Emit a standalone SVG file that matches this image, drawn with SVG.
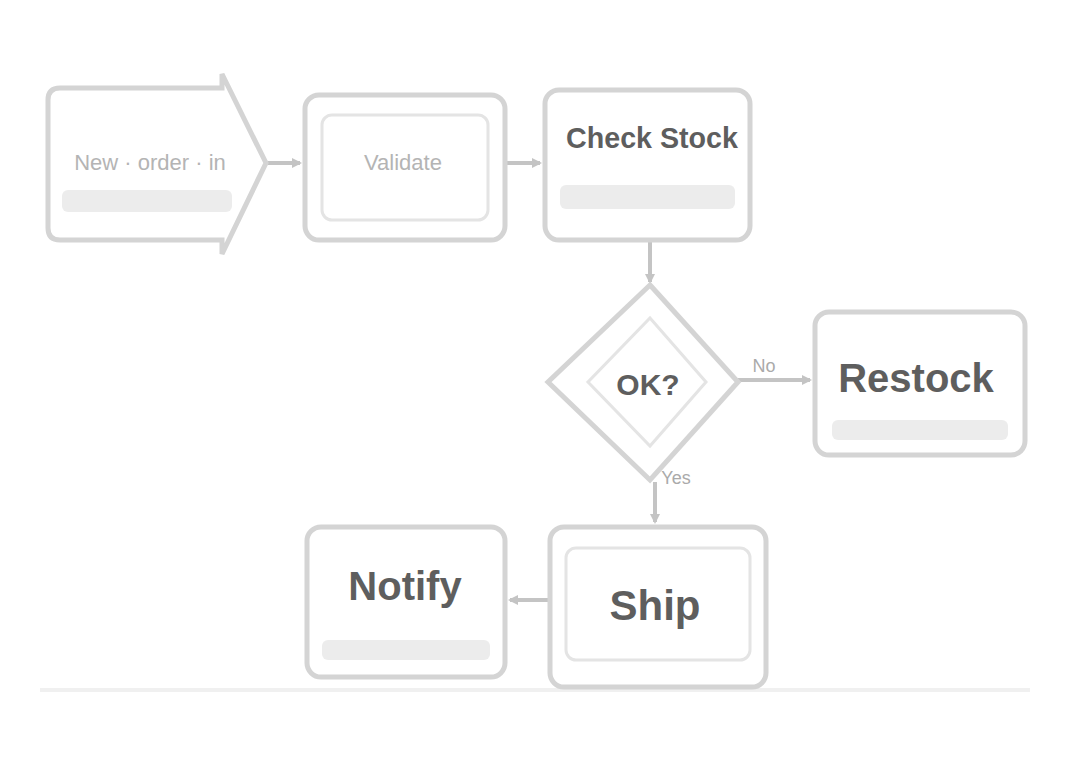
<svg xmlns="http://www.w3.org/2000/svg" width="1071" height="769" viewBox="0 0 1071 769">
<style>
.card{fill:#ffffff;stroke:#d4d4d4;stroke-width:5}
.strip{fill:#ececec}
.inner{fill:none;stroke:#e4e4e4;stroke-width:3}
.light{font-family:"Liberation Sans",Arial,sans-serif;font-size:22px;fill:#b4b4b4;text-anchor:middle}
.dark{font-family:"Liberation Sans",Arial,sans-serif;font-size:34px;font-weight:bold;fill:#5e5e5e;text-anchor:middle}
.lbl{font-family:"Liberation Sans",Arial,sans-serif;font-size:18px;fill:#aaaaaa;text-anchor:middle}
.edge{stroke:#c4c4c4;stroke-width:4;fill:none}
</style>
<defs>
<marker id="arr" markerWidth="10" markerHeight="10" refX="8" refY="5" orient="auto" markerUnits="userSpaceOnUse">
<path d="M0,0 L10,5 L0,10 z" fill="#c4c4c4"/>
</marker>
</defs>
<rect width="1071" height="769" fill="#ffffff"/>
<line x1="40" y1="690" x2="1030" y2="690" stroke="#f0f0f0" stroke-width="4"/>

<g id="connectors">
<line class="edge" x1="268" y1="163" x2="300" y2="163" marker-end="url(#arr)"/>
<line class="edge" x1="505" y1="163" x2="540" y2="163" marker-end="url(#arr)"/>
<line class="edge" x1="650" y1="240" x2="650" y2="282" marker-end="url(#arr)"/>
<line class="edge" x1="738" y1="380" x2="810" y2="380" marker-end="url(#arr)"/>
<line class="edge" x1="655" y1="482" x2="655" y2="522" marker-end="url(#arr)"/>
<line class="edge" x1="548" y1="600" x2="510" y2="600" marker-end="url(#arr)"/>
<text class="lbl" x="764" y="372">No</text>
<text class="lbl" x="676" y="484">Yes</text>
</g>

<g id="n1">
<path class="card" d="M60,88 L222,88 L222,74 L266,163 L222,254 L222,240 L60,240 Q48,240 48,228 L48,100 Q48,88 60,88 z"/>
<rect class="strip" x="62" y="190" width="170" height="22" rx="6"/>
<text class="light" x="150" y="170">New · order · in</text>
</g>

<g id="n2">
<rect class="card" x="305" y="95" width="200" height="145" rx="14"/>
<rect class="inner" x="322" y="115" width="166" height="105" rx="10"/>
<text class="light" x="403" y="170">Validate</text>
</g>

<g id="n3">
<rect class="card" x="545" y="90" width="205" height="150" rx="14"/>
<rect class="strip" x="560" y="185" width="175" height="24" rx="6"/>
<text class="dark" x="652" y="148" style="font-size:30px" textLength="172" lengthAdjust="spacingAndGlyphs">Check Stock</text>
</g>

<g id="n4">
<path class="card" d="M650,285 L738,382 L650,480 L548,382 z"/>
<path class="inner" d="M650,318 L706,382 L650,446 L588,382 z"/>
<text class="dark" x="648" y="395" style="font-size:30px">OK?</text>
</g>

<g id="n5">
<rect class="card" x="815" y="312" width="210" height="143" rx="14"/>
<rect class="strip" x="832" y="420" width="176" height="20" rx="6"/>
<text class="dark" x="916" y="392" style="font-size:40px">Restock</text>
</g>

<g id="n6">
<rect class="card" x="307" y="527" width="198" height="150" rx="14"/>
<rect class="strip" x="322" y="640" width="168" height="20" rx="6"/>
<text class="dark" x="405" y="600" style="font-size:40px">Notify</text>
</g>

<g id="n7">
<rect class="card" x="550" y="527" width="216" height="160" rx="14"/>
<rect class="inner" x="566" y="548" width="184" height="112" rx="10"/>
<text class="dark" x="655" y="620" style="font-size:42px">Ship</text>
</g>
</svg>
